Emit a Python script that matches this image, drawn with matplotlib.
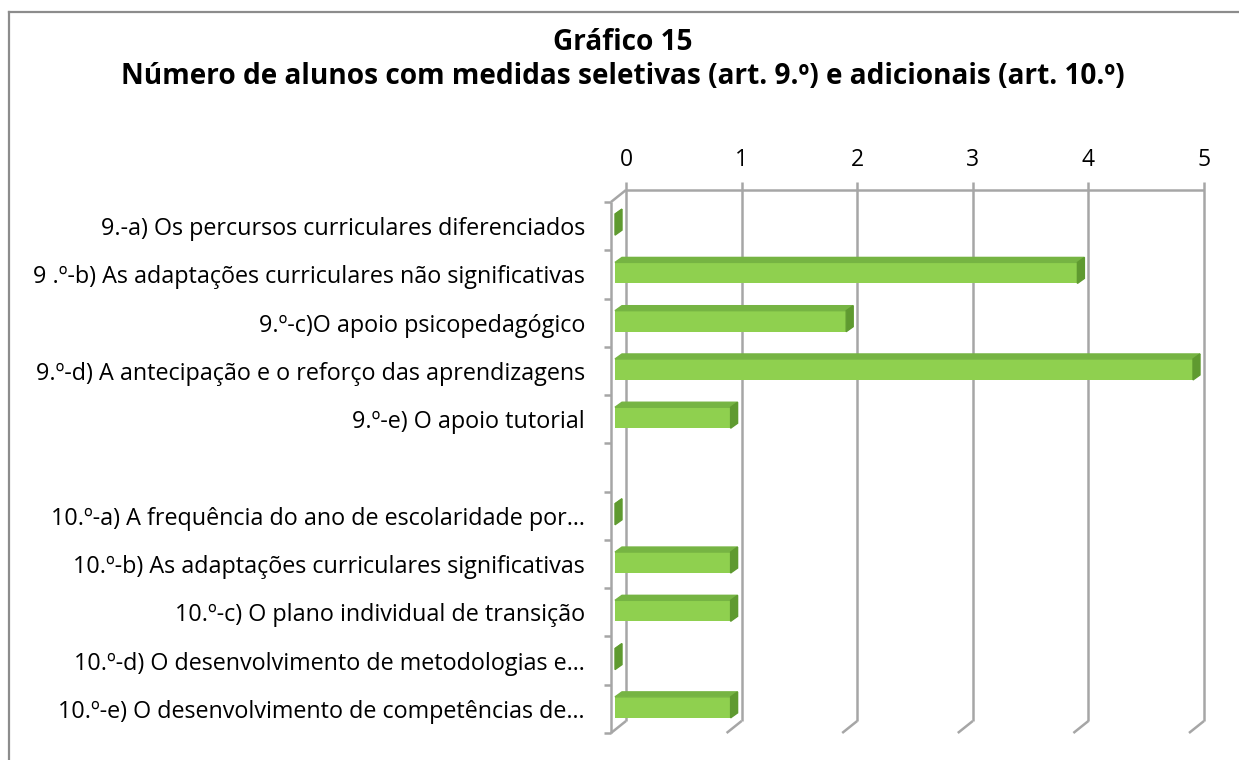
import matplotlib
matplotlib.use("Agg")
import matplotlib.pyplot as plt
import matplotlib.transforms as mtransforms
from matplotlib.patches import Polygon
import numpy as np

plt.rcParams["font.family"] = ["Open Sans", "DejaVu Sans"]

TITLE_1 = "Gráfico 15"
TITLE_2 = "Número de alunos com medidas seletivas (art. 9.º) e adicionais (art. 10.º)"

CATEGORIES = [
    "9.-a) Os percursos curriculares diferenciados",
    "9 .º-b) As adaptações curriculares não significativas",
    "9.º-c)O apoio psicopedagógico",
    "9.º-d) A antecipação e o reforço das aprendizagens",
    "9.º-e) O apoio tutorial",
    "",
    "10.º-a) A frequência do ano de escolaridade por…",
    "10.º-b) As adaptações curriculares significativas",
    "10.º-c) O plano individual de transição",
    "10.º-d) O desenvolvimento de metodologias e…",
    "10.º-e) O desenvolvimento de competências de…",
]
VALUES = [0, 4, 2, 5, 1, np.nan, 0, 1, 1, 0, 1]
X_TICKS = [0, 1, 2, 3, 4, 5]

W, H = 1239, 760
FRONT_FACE = "#8fd04f"
TOP_FACE = "#76b443"
SIDE_FACE = "#5f9a30"
GRID = "#a6a6a6"

fig = plt.figure(figsize=(W / 100, H / 100), dpi=100)

# outer frame (only top and left edges visible in the crop)
fig.add_artist(plt.Line2D([9 / W, 1], [1 - 12 / H, 1 - 12 / H], color="#8c8c8c", lw=1.6))
fig.add_artist(plt.Line2D([9 / W, 9 / W], [1 - 12 / H, 0], color="#8c8c8c", lw=1.6))

fig.text(623 / W, 1 - 43 / H, TITLE_1, ha="center", va="center",
         fontsize=20.2, fontweight="bold")
fig.text(623 / W, 1 - 76 / H, TITLE_2, ha="center", va="center",
         fontsize=20.2, fontweight="bold")

# plot area = front plane of the bars
x0, x1, y0, y1 = 615, 1193, 202, 733
ax = fig.add_axes([x0 / W, 1 - y1 / H, (x1 - x0) / W, (y1 - y0) / H])
n = len(CATEGORIES)
ax.set_xlim(0, 5)
ax.set_ylim(n, 0)
ax.set_frame_on(False)
ax.set_xticks([])

sx = 5 / (x1 - x0)   # data units per pixel
sy = n / (y1 - y0)


def off(dx, dy):
    return mtransforms.offset_copy(ax.transData, fig=fig, x=dx, y=dy, units="dots")


back = off(11, 12)
line_kw = dict(color=GRID, lw=1.8, solid_capstyle="butt", clip_on=False)

# back wall grid + top tick stubs
for k in X_TICKS:
    ax.plot([k, k], [-8 * sy, n], transform=back, **line_kw)
    ax.text(k, 0, str(k), transform=off(11, 42), ha="center", va="center", fontsize=16.5)
    # floor diagonals
    ax.plot([k - 4 * sx, k + 11 * sx], [n, n - 12 * sy], **line_kw)
ax.plot([0, 5], [0, 0], transform=back, **line_kw)

# front vertical axis with ticks
ax.plot([0, 0], [0, n], transform=off(-4, 0), **line_kw)
ax.plot([-4 * sx, 11 * sx], [0, -12 * sy], **line_kw)
for j in range(n + 1):
    ax.plot([-11 * sx, -4 * sx], [j, j], **line_kw)

# 3D-looking bars
centers = np.arange(n) + 0.5 - 1.5 * sy
h = 21 * sy
dx, dy = 7 * sx, 5 * sy
for c, v in zip(centers, VALUES):
    if np.isnan(v):
        continue
    top, bot = c - h / 2, c + h / 2
    ax.barh(c, v, height=h, left=0, color=FRONT_FACE, zorder=3, clip_on=False)
    ax.add_patch(Polygon([(0, top), (v, top), (v + dx, top - dy), (dx, top - dy)],
                         closed=True, color=TOP_FACE, zorder=3, clip_on=False))
    ax.add_patch(Polygon([(v, top), (v, bot), (v + dx, bot - dy), (v + dx, top - dy)],
                         closed=True, color=SIDE_FACE, zorder=4, clip_on=False))

ax.set_yticks(np.arange(n) + 0.5)
ax.set_yticklabels(CATEGORIES, fontsize=16.8)
ax.tick_params(axis="y", length=0, pad=21.6)

fig.savefig("out.png", dpi=100)
